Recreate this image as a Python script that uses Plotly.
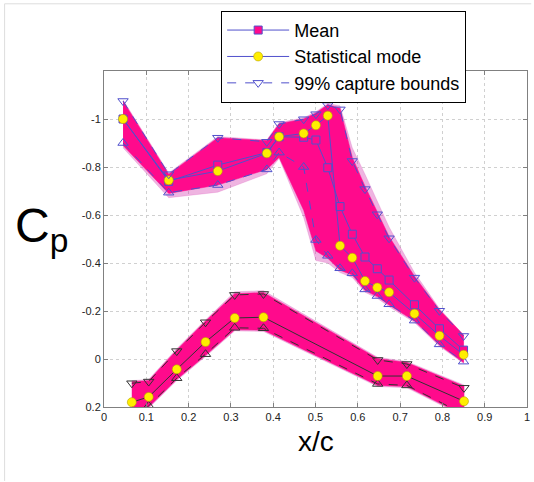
import plotly.graph_objects as go

# ---------------- data ----------------
# Upper (suction) surface
xu = [0.045, 0.153, 0.269, 0.385, 0.414, 0.472, 0.501, 0.529, 0.558, 0.587, 0.617, 0.646, 0.674, 0.734, 0.793, 0.850]
mean_u = [-1.00, -0.74, -0.808, -0.86, -0.926, -0.924, -0.9125, -0.797, -0.635, -0.52, -0.425, -0.376, -0.329, -0.226, -0.126, -0.037]
mode_u = [-1.00, -0.745, -0.783, -0.857, -0.926, -0.940, -0.974, -1.014, -0.472, -0.422, -0.325, -0.298, -0.278, -0.189, -0.097, -0.018]
ub_u = [-1.075, -0.77, -0.922, -0.905, -0.979, -0.999, -1.02, -1.058, -1.04, -0.825, -0.708, -0.603, -0.503, -0.339, -0.201, -0.096]
lb_u = [-0.90, -0.693, -0.725, -0.79, -0.86, -0.80, -0.496, -0.43, -0.378, -0.357, -0.29, -0.2625, -0.228, -0.16, -0.061, 0.011]
# envelope of the sample curves (solid band and thin outer lines)
band_hi_u = [-1.075, -0.77, -0.922, -0.91, -0.98, -1.0, -1.025, -1.06, -1.045, -0.84, -0.72, -0.615, -0.51, -0.345, -0.205, -0.10]
band_lo_u = [-0.89, -0.69, -0.725, -0.79, -0.84, -0.62, -0.45, -0.42, -0.37, -0.35, -0.285, -0.26, -0.225, -0.158, -0.058, 0.015]
fringe_hi_u = [-1.08, -0.775, -0.927, -0.913, -0.985, -1.005, -1.03, -1.065, -1.055, -0.88, -0.77, -0.66, -0.55, -0.36, -0.21, -0.10]
fringe_lo_u = [-0.88, -0.672, -0.695, -0.772, -0.835, -0.59, -0.41, -0.40, -0.36, -0.34, -0.278, -0.253, -0.218, -0.152, -0.053, 0.018]

# Lower (pressure) surface
xl = [0.0658, 0.1057, 0.172, 0.240, 0.309, 0.377, 0.647, 0.716, 0.851]
mode_l = [0.18, 0.158, 0.043, -0.071, -0.171, -0.174, 0.071, 0.071, 0.176]
ub_l = [0.101, 0.094, -0.033, -0.153, -0.267, -0.271, 0.004, 0.021, 0.12]
lb_l = [0.26, 0.195, 0.08, -0.02, -0.13, -0.128, 0.104, 0.11, 0.23]
band_hi_l = [0.095, 0.09, -0.038, -0.158, -0.272, -0.277, -0.002, 0.015, 0.113]
band_lo_l = [0.26, 0.20, 0.085, -0.015, -0.122, -0.12, 0.11, 0.115, 0.235]
fringe_hi_l = [0.09, 0.085, -0.043, -0.163, -0.28, -0.285, -0.007, 0.01, 0.108]
fringe_lo_l = [0.265, 0.205, 0.09, -0.01, -0.117, -0.115, 0.115, 0.12, 0.24]

x_ticks = [0, 0.1, 0.2, 0.3, 0.4, 0.5, 0.6, 0.7, 0.8, 0.9, 1]
y_ticks = [-1, -0.8, -0.6, -0.4, -0.2, 0, 0.2]
y_ticklabels = ["-1", "-0.8", "-0.6", "-0.4", "-0.2", "0", "0.2"]

# ---------------- styles ----------------
BAND = "#ff0a8c"
FRINGE = "rgba(210,40,170,0.35)"
BLUE = "#5050cc"
DARK = "#333333"
YELLOW = "#ffee00"
FONT = "Liberation Sans, Arial, sans-serif"

fig = go.Figure()


def band(x, hi, lo, color):
    fig.add_trace(go.Scatter(
        x=list(x) + list(x)[::-1], y=list(hi) + list(lo)[::-1],
        fill="toself", fillcolor=color, mode="lines",
        line=dict(width=0.5, color=color), showlegend=False, hoverinfo="skip"))


band(xu, fringe_hi_u, fringe_lo_u, FRINGE)
band(xl, fringe_hi_l, fringe_lo_l, FRINGE)
band(xu, band_hi_u, band_lo_u, BAND)
band(xl, band_hi_l, band_lo_l, BAND)

# Lower surface lines (dark)
fig.add_trace(go.Scatter(x=xl, y=ub_l, mode="lines+markers", showlegend=False,
                         line=dict(color=DARK, width=1, dash="dash"),
                         marker=dict(symbol="triangle-down-open", size=9, color=DARK, line=dict(width=1))))
fig.add_trace(go.Scatter(x=xl, y=lb_l, mode="lines+markers", showlegend=False,
                         line=dict(color=DARK, width=1, dash="dash"),
                         marker=dict(symbol="triangle-up-open", size=9, color=DARK, line=dict(width=1))))
fig.add_trace(go.Scatter(x=xl, y=mode_l, mode="lines+markers", showlegend=False,
                         line=dict(color=DARK, width=1),
                         marker=dict(symbol="circle", size=9, color=YELLOW, line=dict(color="#b8a000", width=0.6))))

# Upper surface lines (blue)
fig.add_trace(go.Scatter(x=xu, y=lb_u, mode="lines+markers", showlegend=False,
                         line=dict(color=BLUE, width=1, dash="dash"),
                         marker=dict(symbol="triangle-up-open", size=9, color=BLUE, line=dict(width=1))))
fig.add_trace(go.Scatter(x=xu, y=mean_u, mode="lines+markers", name="Mean", legendrank=1,
                         line=dict(color=BLUE, width=1),
                         marker=dict(symbol="square", size=8, color=BAND, line=dict(color=BLUE, width=1))))
fig.add_trace(go.Scatter(x=xu, y=mode_u, mode="lines+markers", name="Statistical mode", legendrank=2,
                         line=dict(color=BLUE, width=1),
                         marker=dict(symbol="circle", size=9, color=YELLOW, line=dict(color="#b8a000", width=0.6))))
fig.add_trace(go.Scatter(x=xu, y=ub_u, mode="lines+markers", name="99% capture bounds", legendrank=3,
                         line=dict(color=BLUE, width=1, dash="dash"),
                         marker=dict(symbol="triangle-down-open", size=9, color=BLUE, line=dict(width=1))))

axis_common = dict(showline=True, linecolor="#808080", linewidth=1, mirror="ticks",
                   ticks="inside", ticklen=4, tickcolor="#808080",
                   showgrid=True, gridcolor="#d0d0d0", griddash="dot", gridwidth=1,
                   zeroline=False, tickfont=dict(family=FONT, size=11, color="#222222"))

fig.update_layout(
    width=534, height=482,
    margin=dict(l=104, r=4, t=71, b=75),
    paper_bgcolor="white", plot_bgcolor="white",
    font=dict(family=FONT),
    xaxis=dict(range=[0, 1], tickvals=x_ticks, **axis_common),
    yaxis=dict(range=[0.2, -1.2], tickvals=y_ticks, ticktext=y_ticklabels, **axis_common),
    legend=dict(x=0.277, y=1.179, xanchor="left", yanchor="top",
                bgcolor="white", bordercolor="#000000", borderwidth=1,
                font=dict(family=FONT, size=18, color="#000000"),
                itemwidth=62, tracegroupgap=0),
    annotations=[
        dict(text="C<sub>p</sub>", x=-0.216, y=0.53, xref="paper", yref="paper",
             showarrow=False, font=dict(family=FONT, size=48, color="#000000")),
        dict(text="x/c", x=0.5, y=-0.155, xref="paper", yref="paper",
             showarrow=False, font=dict(family=FONT, size=28, color="#000000")),
    ],
    shapes=[
        dict(type="line", xref="paper", yref="paper", x0=-0.235, x1=1.01, y0=1.2, y1=1.2,
             line=dict(color="#dddddd", width=1)),
        dict(type="line", xref="paper", yref="paper", x0=-0.235, x1=-0.235, y0=-0.22, y1=1.2,
             line=dict(color="#dddddd", width=1)),
    ],
)

fig.write_html("out.html")
